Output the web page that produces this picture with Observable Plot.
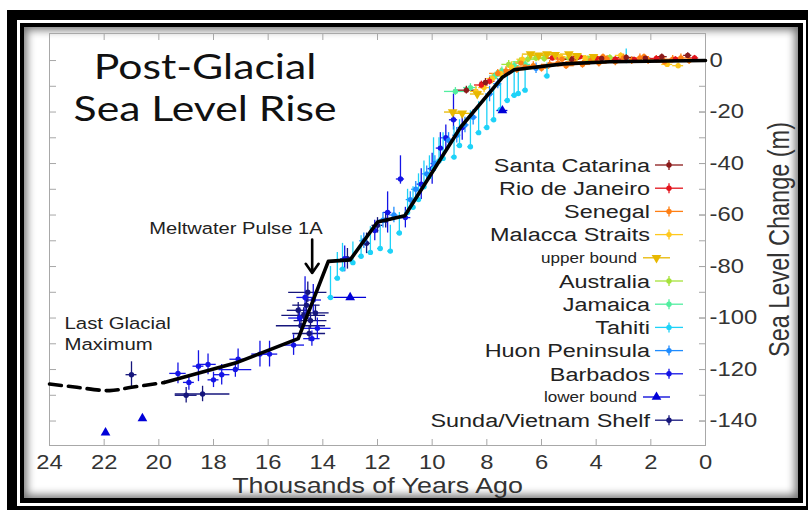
<!DOCTYPE html>
<html><head><meta charset="utf-8">
<script src="https://cdn.jsdelivr.net/npm/d3@7"></script>
<script src="https://cdn.jsdelivr.net/npm/@observablehq/plot@0.6"></script>
<style>
html,body{margin:0;padding:0;background:#fff}
body{width:808px;height:510px;position:relative;overflow:hidden;font-family:"Liberation Sans",Arial,sans-serif}
.f1{position:absolute;left:7px;top:10px;width:801px;height:500px;background:#000}
.f2{position:absolute;left:17px;top:20px;width:789px;height:486px;background:#fff}
.f3{position:absolute;left:20px;top:23px;width:783px;height:480px;background:#000}
.f4{position:absolute;left:24px;top:27px;width:774px;height:471px;background:#fff;box-shadow:inset 0 0 9px 3px rgba(0,0,0,0.55)}
#chart{position:absolute;left:0;top:0}
</style></head><body>
<div class="f1"></div><div class="f2"></div><div class="f3"></div><div class="f4"></div>
<div id="chart"></div>
<script>
// ---- axis ticks ----
const xTicks = [24, 22, 20, 18, 16, 14, 12, 10, 8, 6, 4, 2, 0];
const yTicks = [0, -20, -40, -60, -80, -100, -120, -140];
const yMinorTicks = [0, -10, -20, -30, -40, -50, -60, -70, -80, -90, -100, -110, -120, -130, -140];

// ---- model curve (thousands of years ago, metres) ----
const curveAge   = [19.8, 17.2, 14.9, 13.8, 13.0, 12.0, 11.0, 8.96, 7.44, 7.0, 5.2, 3.5, 0];
const curveLevel = [-125, -117.5, -108, -78, -77.4, -62.7, -60.3, -25.9, -6.6, -3.6, -1.3, -0.5, 0];
const lgmAge   = [24, 23, 21.8, 21.0, 19.8];
const lgmLevel = [-125.6, -126.9, -128.2, -126.9, -125];

// ---- observations: [age ka, level m, ±age, error down m, error up m] ----
const santaCatarina = [[8.75,-11.5,0.45,1.5,1.5],[8.05,-8.5,0.2,1.5,1.5],[4.9,0.5,0.3,1,1],[3.8,0.8,0.25,1,1],[2.9,1.2,0.3,1,1],[2.2,0.9,0.2,1,1],[1.6,1.5,0.2,1,1],[0.65,2.0,0.15,1,1]];
const rioDeJaneiro = [[8.2,-9.5,0.25,1.5,1.5],[7.9,-8,0.2,1.5,1.5],[5.6,1,0.3,1,1],[4.6,1.5,0.25,1,1],[4.0,1.0,0.3,1,1],[3.3,0.5,0.3,1,1],[2.6,0.3,0.2,1,1],[1.8,0.8,0.25,1,1],[1.1,0.5,0.2,1,1],[0.4,1,0.15,1,1]];
const senegal = [[7.6,-5,0.3,1.5,1.5],[7.3,-4,0.3,1.5,1.5],[6.9,-3.5,0.3,1.5,1.5],[6.6,-2.5,0.3,1.5,1.5],[6.3,-2,0.3,1.5,1.5],[6.0,-3,0.3,1.5,1.5],[5.7,-1.5,0.3,1.5,1.5],[5.4,-1,0.3,1.5,1.5],[5.1,-2,0.3,1.5,1.5],[4.8,-0.5,0.3,1.5,1.5],[4.5,-1.5,0.3,1.5,1.5],[4.2,0,0.3,1.5,1.5],[3.9,-1,0.3,1.5,1.5],[3.6,0.5,0.3,1.5,1.5],[3.3,-0.5,0.3,1.5,1.5],[3.0,1,0.3,1.5,1.5],[2.7,0,0.3,1.5,1.5],[2.4,1,0.3,1.5,1.5],[2.1,0,0.3,1.5,1.5],[1.8,0.5,0.3,1.5,1.5],[1.5,-0.5,0.3,1.5,1.5],[1.2,0.5,0.3,1.5,1.5],[0.9,1,0.3,1.5,1.5],[0.6,0,0.2,1.5,1.5],[6.75,-1,0.2,1,1],[5.25,0.5,0.2,1,1],[3.75,1.5,0.2,1,1],[2.25,1.5,0.2,1,1]];
const malaccaStraits = [[8.4,-12,0.2,2,2],[8.1,-10.5,0.2,2,2],[7.8,-7,0.2,2,2],[7.5,-5,0.2,2,2],[7.1,-2.5,0.2,2,2],[6.7,0.5,0.2,1.5,1.5],[5.3,1.5,0.2,1,1],[4.4,1,0.2,1,1],[3.1,2,0.2,1,1],[1.4,-1.5,0.2,1,1],[1.0,-2,0.2,1,1]];
const upperBound = [[9.25,-20,0.3,0,0],[8.9,-20.5,0.35,0,0],[8.35,-13,0.25,0,0],[6.4,2.5,0.3,0,0],[6.1,2,0.3,0,0],[5.8,2.5,0.3,0,0],[5.5,2.2,0.25,0,0],[5.0,2.5,0.3,0,0],[4.7,1.8,0.3,0,0],[4.1,1.5,0.2,0,0]];
const australia = [[7.2,-1.5,0.25,1.5,1.5],[6.8,-0.5,0.25,1.5,1.5],[6.5,0.5,0.25,1.5,1.5],[6.2,1,0.25,1.5,1.5],[5.9,0.8,0.25,1.5,1.5],[5.0,1,0.25,1,1],[4.3,0.8,0.2,1,1],[3.5,1.2,0.2,1,1]];
const jamaica = [[9.15,-12,0.4,1.5,1.5],[8.6,-10.5,0.25,1.5,1.5],[7.7,-6,0.2,1.5,1.5],[7.45,-4,0.2,1.5,1.5],[7.0,-2,0.2,1.5,1.5],[6.6,-1.5,0.2,1.5,1.5]];
const tahiti = [[13.72,-92,0.1,1,12],[13.47,-84.5,0.1,1,10],[13.28,-81,0.1,1,10],[12.9,-78.5,0.1,1,8],[12.6,-76,0.1,1,8],[12.26,-74.5,0.1,1,10],[11.9,-73,0.1,1,9],[11.53,-74,0.1,1,10],[11.2,-67,0.1,1,8],[10.9,-59,0.1,1,9],[10.7,-57,0.1,1,8],[10.5,-54,0.1,1,10],[10.3,-49,0.1,1,10],[10.1,-45,0.1,1,8],[9.95,-42,0.1,1,12],[9.75,-39,0.1,1,9],[9.6,-38,0.1,1,10],[9.2,-37.5,0.1,1,12],[9.0,-33,0.1,1,10],[8.6,-33.5,0.1,1,14],[8.3,-28,0.1,1,12],[8.0,-26,0.1,1,12],[7.75,-23,0.1,1,12],[7.5,-19,0.1,1,10],[7.25,-15.5,0.1,1,10],[7.0,-13.5,0.1,1,10],[6.85,-12.8,0.1,1,10],[6.6,-11.5,0.1,1,8],[5.8,-6,0.1,1,5],[2.9,0,0.1,0,4.5]];
const huonPeninsula = [[12.5,-70,0.15,3,3],[11.8,-62,0.15,3,3],[11.4,-60,0.15,3,3],[10.8,-54,0.15,3,3],[10.6,-50,0.15,3,3],[10.2,-44,0.15,3,3],[9.9,-40,0.15,3,3],[9.4,-31,0.15,3,3],[9.1,-29,0.15,3,3],[8.8,-25,0.15,3,3],[8.5,-22,0.15,3,3],[7.9,-13,0.15,3,3],[7.6,-9,0.15,2,2],[6.2,-3,0.1,2,2]];
const barbados = [[19.3,-121.5,0.3,4,4],[18.9,-125,0.2,3,3],[18.55,-118.7,0.2,6,6],[18.2,-118,0.3,4,4],[18.0,-124,0.2,3,3],[17.7,-122,0.3,4,4],[17.2,-120,0.6,3,3],[17.1,-116,0.3,4,4],[16.3,-114,0.3,5,5],[15.95,-114,0.3,5,5],[15.07,-110.5,0.4,4,4],[14.35,-93,0.3,5,6],[14.65,-92,0.3,8,8],[14.2,-104,0.5,4,4],[14.85,-100,0.4,4,4],[14.4,-108,0.3,3,3],[13.2,-77,0.15,5,5],[12.1,-66,0.15,4,4],[11.63,-59,0.15,8,8],[11.16,-46,0.15,2,9],[10.98,-61,0.2,4,4],[10.4,-48,0.15,6,6],[10.0,-42,0.15,6,6],[9.7,-34,0.15,6,6],[9.5,-30,0.15,5,5],[9.22,-23,0.15,4,10],[8.9,-26,0.15,5,5]];
const lowerBound = [[21.95,-144.5,0,0,0],[20.6,-139,0,0,0],[13.0,-92,0.6,0,0],[7.43,-19.4,0.2,0,0]];
const sundaShelf = [[21.0,-122,0.2,5,5],[19.0,-130,0.4,3,3],[18.4,-129.5,1.0,3,3],[14.55,-90,0.7,4,4],[14.7,-99,0.8,3,3],[14.45,-101,0.6,3,3],[14.27,-98,0.5,3,3],[14.8,-103,0.9,3,3],[14.6,-95,0.5,4,4],[14.5,-106,0.6,3,3],[14.9,-97,0.4,3,3],[13.1,-77,0.2,4,4],[12.4,-71,0.15,4,4],[12.0,-64,0.2,3,3],[11.7,-62,0.2,3,3]];

// ---- legend categories ----
const seriesNames  = ["Santa Catarina","Rio de Janeiro","Senegal","Malacca Straits","upper bound","Australia","Jamaica","Tahiti","Huon Peninsula","Barbados","lower bound","Sunda/Vietnam Shelf"];
const seriesColors = ["#8b1a1a","#e3141c","#ff7f14","#ffc81e","#e8b800","#a6e23a","#52eea0","#1ed2f8","#1f8cff","#1414e6","#0000d8","#16167c"];
const seriesKinds  = ["dot","dot","dot","dot","down","dot","dot","dot","dot","dot","up","dot"];
const seriesData   = [santaCatarina, rioDeJaneiro, senegal, malaccaStraits, upperBound, australia, jamaica, tahiti, huonPeninsula, barbados, lowerBound, sundaShelf];

// ---- build tables ----
const obs = [];
for (let k = seriesNames.length - 1; k >= 0; k--) {
  for (const [t, z, dt, dd, du] of seriesData[k]) {
    obs.push({series: seriesNames[k], kind: seriesKinds[k], t, z, t1: t - dt, t2: t + dt, z1: z - dd, z2: z + du, dt, dz: dd + du});
  }
}
const curve = curveAge.map((t, i) => ({t, z: curveLevel[i]}));
const lgm = lgmAge.map((t, i) => ({t, z: lgmLevel[i]}));

const triangleDown = {draw(ctx, size) {
  const y = -Math.sqrt(size / (Math.sqrt(3) * 3)), s3 = Math.sqrt(3);
  ctx.moveTo(0, -y * 2); ctx.lineTo(-s3 * y, y); ctx.lineTo(s3 * y, y); ctx.closePath();
}};

const notes = [{text: "Meltwater Pulse 1A", t: 14.01, z: -65.2}];
const lgmNote = [{text: "Last Glacial\nMaximum", t: 23.45, z: -98.3}];
const titleNote = [{text: "Post-Glacial\nSea Level Rise", t: 18.31, z: 4.3}];
const mwpArrow = [{t: 14.39, z1: -69.5, z2: -82.5}];

const FONT = "'Liberation Sans', Arial, sans-serif";
const S = 1.22;

const plot = Plot.plot({
  width: 808, height: 500,
  marginLeft: 49, marginRight: 103, marginTop: 33, marginBottom: 55,
  style: {background: "transparent", fontFamily: FONT, overflow: "visible"},
  x: {domain: [0, 24], reverse: true},
  y: {domain: [-149.5, 10.5]},
  color: {domain: seriesNames, range: seriesColors},
  marks: [
    Plot.frame({stroke: "#a8a8a8"}),
    Plot.axisX(xTicks, {anchor: "top", tickSize: -6, tickFormat: () => "", label: null, stroke: "#a8a8a8"}),
    Plot.axisX(xTicks, {anchor: "bottom", tickSize: -6, tickPadding: 16, tickFormat: d => String(d), label: null, stroke: "#a8a8a8", fill: "#333", fontSize: 19.5}),
    Plot.axisY(yMinorTicks, {anchor: "left", tickSize: -7, tickFormat: () => "", label: null, stroke: "#a8a8a8"}),
    Plot.axisY(yMinorTicks, {anchor: "right", tickSize: -7, tickFormat: () => "", label: null, stroke: "#a8a8a8"}),
    Plot.axisY(yTicks, {anchor: "right", tickSize: -7, tickPadding: 11, tickFormat: d => String(d), label: null, stroke: "#a8a8a8", fill: "#333", fontSize: 19.5, textAnchor: "start"}),
    Plot.text(["Thousands of Years Ago"], {frameAnchor: "bottom", dy: 40, textAnchor: "middle", lineAnchor: "middle", fontSize: 22, fill: "#333"}),
    Plot.text(["Sea Level Change (m)"], {frameAnchor: "right", dx: 74, rotate: -90, textAnchor: "middle", lineAnchor: "middle", fontSize: 23.5, fill: "#333"}),
    Plot.ruleY(obs.filter(d => d.dt > 0), {y: "z", x1: "t1", x2: "t2", stroke: "series", strokeWidth: 1.3}),
    Plot.ruleX(obs.filter(d => d.dz > 0), {x: "t", y1: "z1", y2: "z2", stroke: "series", strokeWidth: 1.3}),
    Plot.dot(obs.filter(d => d.kind === "dot"), {x: "t", y: "z", fill: "series", r: 2.7}),
    Plot.dot(obs.filter(d => d.kind === "up"), {x: "t", y: "z", fill: "series", symbol: "triangle", r: 3.6}),
    Plot.dot(obs.filter(d => d.kind === "down"), {x: "t", y: "z", fill: "series", symbol: triangleDown, r: 3.6}),
    Plot.line(lgm, {x: "t", y: "z", stroke: "#000", strokeWidth: 3.6, strokeDasharray: "12,7", curve: "catmull-rom"}),
    Plot.line(curve, {x: "t", y: "z", stroke: "#000", strokeWidth: 3.6, strokeLinejoin: "round"}),
    Plot.arrow(mwpArrow, {x1: "t", x2: "t", y1: "z1", y2: "z2", stroke: "#000", strokeWidth: 2.6, headLength: 13, headAngle: 70}),
    Plot.text(notes, {x: "t", y: "z", text: "text", textAnchor: "end", lineAnchor: "middle", fontSize: 16.5, fill: "#222"}),
    Plot.text(lgmNote, {x: "t", y: "z", text: "text", textAnchor: "start", lineAnchor: "top", fontSize: 16.7, lineHeight: 1.27, fill: "#222"}),
    Plot.text(titleNote, {x: "t", y: "z", text: "text", textAnchor: "middle", lineAnchor: "top", fontSize: 35, lineHeight: 1.2, fill: "#111", fontFamily: "Lato, 'Open Sans', sans-serif", ariaLabel: "title"})
  ]
});

document.getElementById("chart").appendChild(plot);

// ---- legend ----
const svg = d3.select(plot);
const lg = svg.append("g").attr("aria-label", "legend").attr("font-family", FONT);
seriesNames.forEach((name, i) => {
  const cy = 165 + i * 23.2;
  const kind = seriesKinds[i], color = seriesColors[i];
  const small = kind !== "dot";
  const tx = small ? 637 : 650;
  lg.append("text").attr("transform", `translate(${tx},${cy})`).attr("text-anchor", "end").attr("dy", "0.35em")
    .attr("font-size", small ? 14 : 19.2).attr("fill", "#222").text(name);
  const x0 = small ? 643 : 655, x1 = small ? 670 : 683, cx = (x0 + x1) / 2;
  lg.append("line").attr("x1", x0).attr("x2", x1).attr("y1", cy).attr("y2", cy).attr("stroke", color).attr("stroke-width", 1.3);
  if (kind === "dot") {
    lg.append("line").attr("x1", cx).attr("x2", cx).attr("y1", cy - 5).attr("y2", cy + 5).attr("stroke", color).attr("stroke-width", 1.3);
    lg.append("circle").attr("cx", cx).attr("cy", cy).attr("r", 2.7).attr("fill", color);
  } else {
    const p = d3.path();
    if (kind === "up") d3.symbolTriangle.draw(p, 3.6 * 3.6 * Math.PI); else triangleDown.draw(p, 3.6 * 3.6 * Math.PI);
    lg.append("path").attr("transform", `translate(${cx},${cy})`).attr("d", p.toString()).attr("fill", color);
  }
});

// ---- horizontal stretch of lettering (the reference is drawn stretched) ----
plot.querySelectorAll("text").forEach(el => {
  const isTitle = el.closest('g[aria-label="title"]');
  const s = isTitle ? 1.09 : S;
  const tr = el.getAttribute("transform") || "";
  const rotated = /rotate\(-90\)/.test(tr);
  el.setAttribute("transform", tr + (rotated ? ` scale(1,${s})` : ` scale(${s},1)`));
});
</script>
</body></html>
